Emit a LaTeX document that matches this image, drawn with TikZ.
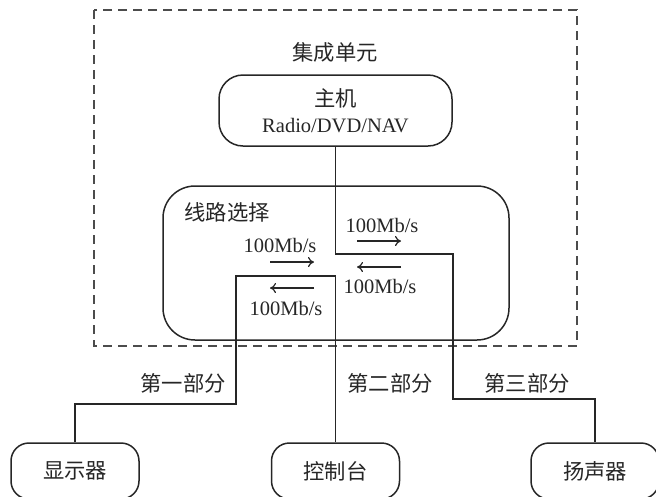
\documentclass[tikz,border=0pt]{standalone}
\usepackage{fontspec}
\setmainfont{Liberation Serif}
\newfontfamily\cjk[Scale=1.04]{Noto Sans CJK SC}
\usetikzlibrary{arrows.meta}

\begin{document}
\begin{tikzpicture}[x=1pt, y=-1pt, font=\fontsize{20.5}{26}\selectfont]
        \tikzstyle{unit}=[draw, rectangle, rounded corners=24pt, line width=1.5pt, black!85, align=center, inner sep=0pt]
        \tikzstyle{dev}=[unit, rounded corners=18pt, minimum width=128pt, minimum height=56pt]
        \tikzstyle{wire}=[line width=1.4pt, black!85]
        \tikzstyle{rate}=[-{To[length=6pt,width=10pt]}, line width=1.2pt, black!85]
        \tikzstyle{lbl}=[inner sep=0pt, text=black!85]

        \useasboundingbox (0,0) rectangle (656,496);

        % integrated unit
        \draw[line width=1.4pt, black!70, dash pattern=on 9pt off 6pt] (94,10) rectangle (577,346);
        \node[lbl] (title) at (335,52) {\cjk 集成单元};

        \node[unit, minimum width=233pt, minimum height=71pt] (host) at (335.5,110.5) {\cjk 主机\\Radio/DVD/NAV};
        \node[unit, rounded corners=32pt, minimum width=346pt, minimum height=154pt] (route) at (336,263) {};
        \node[lbl] (routename) at (227,212) {\cjk 线路选择};

        % end devices
        \node[dev] (disp) at (75,471) {\cjk 显示器};
        \node[dev] (ctrl) at (335.5,471) {\cjk 控制台};
        \node[dev] (spk) at (595,471) {\cjk 扬声器};

        % wiring
        \coordinate (r1) at (453,254);
        \coordinate (r2) at (453,399);
        \coordinate (l1) at (236,276);
        \coordinate (l2) at (236,404);
        \draw[wire] (host.south) |- (r1) -- (r2) -| (spk.north);
        \draw[wire] (disp.north) |- (l2) -- (l1) -| (ctrl.north);

        % data rates
        \node[lbl] (rateA) at (382,225) {100Mb/s};
        \node[lbl] (rateB) at (280,245) {100Mb/s};
        \node[lbl] (rateC) at (380,286) {100Mb/s};
        \node[lbl] (rateD) at (286,308) {100Mb/s};
        \coordinate (a1) at (357,241); \coordinate (a2) at (401,241);
        \coordinate (b1) at (270,262); \coordinate (b2) at (314,262);
        \coordinate (c1) at (401,267); \coordinate (c2) at (357,267);
        \coordinate (d1) at (314,288); \coordinate (d2) at (270,288);
        \draw[rate] (a1) -- (a2);
        \draw[rate] (b1) -- (b2);
        \draw[rate] (c1) -- (c2);
        \draw[rate] (d1) -- (d2);

        % sections
        \node[lbl] (part1) at (183,383) {\cjk 第一部分};
        \node[lbl] (part2) at (390,383) {\cjk 第二部分};
        \node[lbl] (part3) at (527,383) {\cjk 第三部分};
    \end{tikzpicture}
\end{document}
